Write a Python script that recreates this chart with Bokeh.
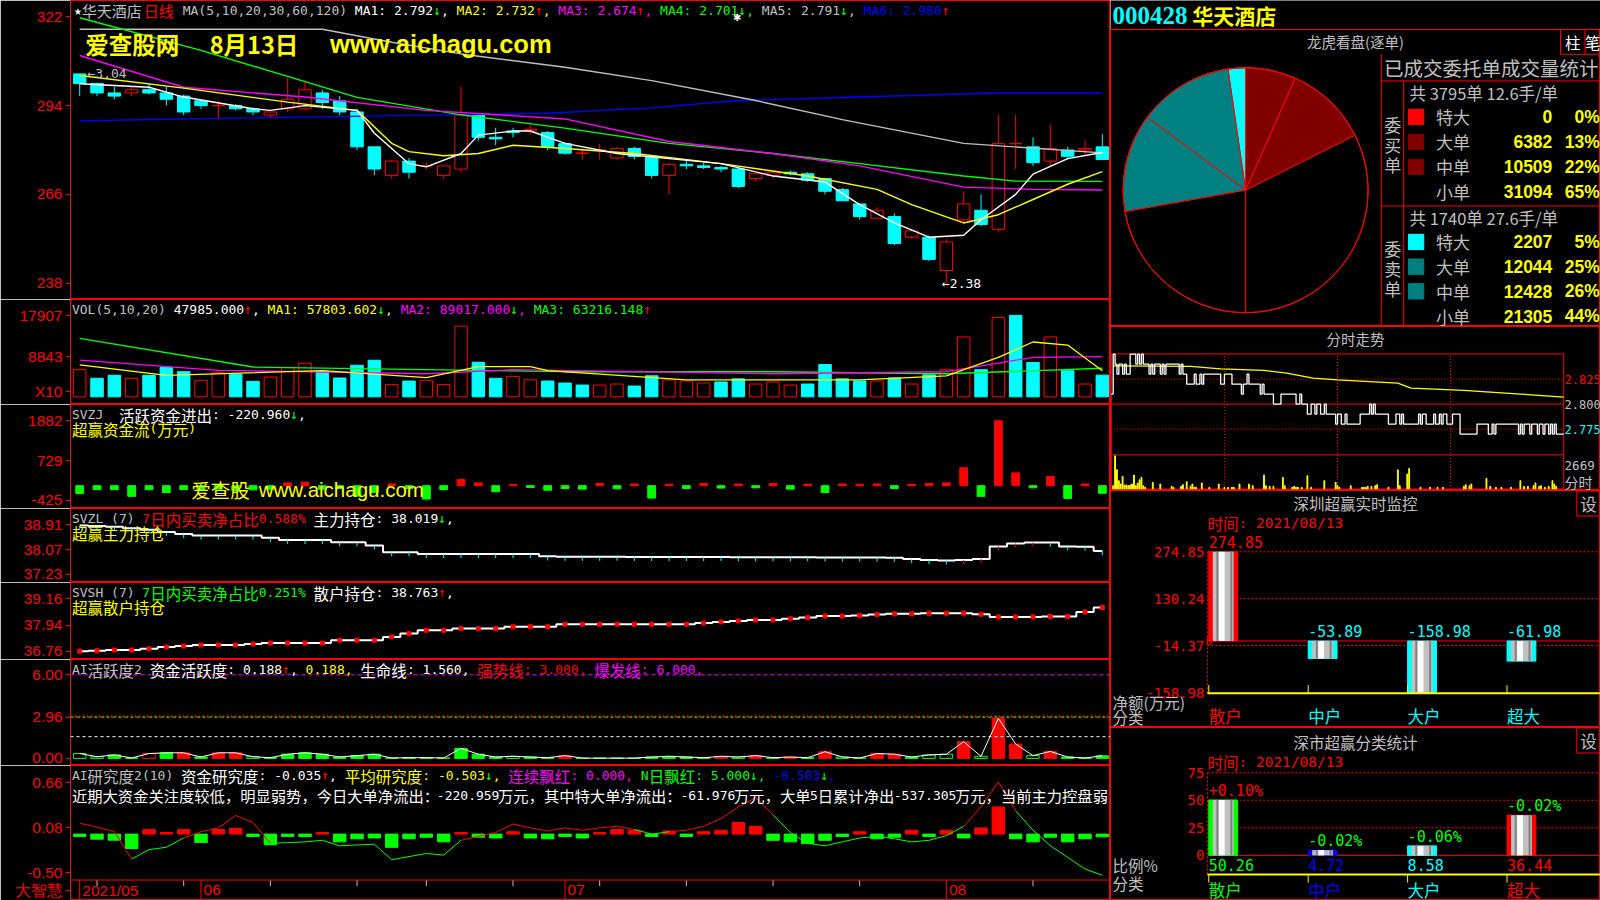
import math
from bokeh.plotting import figure
from bokeh.models import (Range1d, Label, FixedTicker, Span, LinearAxis)
from bokeh.layouts import column, row
from bokeh.embed import file_html
from bokeh.resources import INLINE
from bokeh.core.properties import value

RED = "#FF0000"; GREEN = "#00FF00"; CYAN = "#00FFFF"; YELLOW = "#FFFF00"; MAGENTA = "#FF00FF"
WHITE = "#FFFFFF"; GRAY = "#C0C0C0"; BLUE = "#0000FF"; TEAL = "#008080"; DRED = "#800000"; BLACK = "#000000"
MONO = "DejaVu Sans Mono"; CJK = "Noto Sans CJK SC"; SANS = "Liberation Sans"; SERIF = "Liberation Serif"

# ============================ DATA ============================
date_idx = [0, 7, 28, 50]
date_txt = ["2021/05", "06", "07", "08"]
week_idx = [1, 6, 11, 16, 20, 25, 30, 35, 40, 45, 55]

k_open = [3.04, 3.01, 2.98, 2.98, 2.99, 2.98, 2.97, 2.955, 2.94, 2.94,
          2.93, 2.91, 2.93, 2.93, 2.98, 2.955, 2.92, 2.81, 2.72, 2.765,
          2.75, 2.72, 2.74, 2.91, 2.84, 2.86, 2.86, 2.855, 2.82, 2.79,
          2.80, 2.775, 2.805, 2.78, 2.72, 2.755, 2.75, 2.745, 2.74, 2.71,
          2.72, 2.73, 2.725, 2.71, 2.675, 2.63, 2.585, 2.59, 2.525, 2.525,
          2.42, 2.58, 2.61, 2.55, 2.82, 2.81, 2.765, 2.80, 2.80, 2.81]
k_high = [3.04, 3.01, 3.00, 3.00, 3.01, 3.00, 2.975, 2.955, 2.955, 2.945,
          2.935, 2.92, 3.03, 3.02, 2.99, 2.97, 2.93, 2.81, 2.77, 2.775,
          2.76, 2.75, 3.00, 2.91, 2.87, 2.87, 2.88, 2.86, 2.825, 2.80,
          2.82, 2.81, 2.81, 2.78, 2.76, 2.77, 2.76, 2.75, 2.745, 2.72,
          2.735, 2.735, 2.73, 2.71, 2.68, 2.63, 2.62, 2.60, 2.55, 2.53,
          2.52, 2.67, 2.66, 2.91, 2.91, 2.84, 2.88, 2.81, 2.83, 2.85]
k_low = [2.97, 2.97, 2.96, 2.97, 2.975, 2.94, 2.91, 2.93, 2.90, 2.925,
         2.91, 2.90, 2.92, 2.925, 2.93, 2.91, 2.80, 2.72, 2.71, 2.71,
         2.74, 2.71, 2.73, 2.83, 2.815, 2.84, 2.85, 2.80, 2.785, 2.77,
         2.77, 2.77, 2.77, 2.71, 2.66, 2.74, 2.74, 2.73, 2.68, 2.70,
         2.71, 2.72, 2.70, 2.66, 2.64, 2.58, 2.58, 2.50, 2.52, 2.45,
         2.38, 2.57, 2.56, 2.54, 2.74, 2.75, 2.75, 2.77, 2.78, 2.77]
k_close = [3.01, 2.98, 2.97, 2.99, 2.98, 2.96, 2.92, 2.94, 2.94, 2.93,
           2.92, 2.92, 2.96, 2.99, 2.95, 2.92, 2.81, 2.74, 2.765, 2.73,
           2.75, 2.75, 2.91, 2.84, 2.835, 2.855, 2.865, 2.81, 2.79, 2.79,
           2.80, 2.805, 2.78, 2.72, 2.755, 2.75, 2.745, 2.74, 2.685, 2.725,
           2.73, 2.725, 2.705, 2.67, 2.64, 2.59, 2.61, 2.505, 2.545, 2.455,
           2.51, 2.63, 2.565, 2.82, 2.82, 2.76, 2.805, 2.78, 2.805, 2.77]
price_ticks = [2.38, 2.66, 2.94, 3.22]
price_tick_txt = ["238", "266", "294", "322"]

ma1_i = [0, 4, 6, 10, 11, 13, 16, 17, 19, 20, 22, 23, 25, 26, 28, 31, 34, 37, 40, 43, 45, 47, 49, 51, 52, 54, 55, 57, 59]
ma1_v = [3.009, 2.998, 2.967, 2.93, 2.925, 2.94, 2.925, 2.853, 2.757, 2.747, 2.789, 2.847, 2.86, 2.86, 2.821,
         2.789, 2.773, 2.757, 2.718, 2.699, 2.628, 2.57, 2.525, 2.531, 2.58, 2.66, 2.724, 2.773, 2.792]
ma2_i = [0, 6, 12, 16, 18, 19, 21, 23, 25, 28, 32, 37, 42, 46, 48, 50, 51, 53, 55, 57, 59]
ma2_v = [3.035, 2.995, 2.951, 2.925, 2.821, 2.795, 2.782, 2.789, 2.815, 2.805, 2.789, 2.757, 2.718, 2.676,
         2.628, 2.589, 2.57, 2.596, 2.644, 2.692, 2.732]
ma3_i = [0, 6, 13, 20, 28, 34, 40, 45, 51, 55, 59]
ma3_v = [3.098, 2.998, 2.967, 2.925, 2.898, 2.827, 2.789, 2.75, 2.683, 2.676, 2.674]
ma4_i = [0, 7, 12, 16, 22, 28, 34, 40, 45, 51, 54, 59]
ma4_v = [3.217, 3.114, 3.032, 2.966, 2.911, 2.869, 2.821, 2.789, 2.757, 2.718, 2.702, 2.701]
ma5_i = [0, 14, 18, 22, 28, 33, 39, 44, 51, 59]
ma5_v = [3.181, 3.181, 3.14, 3.103, 3.061, 3.019, 2.956, 2.896, 2.821, 2.791]
ma6_i = [0, 4, 27, 33, 38, 45, 53, 59]
ma6_v = [2.892, 2.896, 2.916, 2.933, 2.956, 2.967, 2.98, 2.98]

vol = [6030, 4100, 4760, 4100, 4760, 6530, 5570, 3650, 5420, 4990,
       3420, 4370, 6460, 7430, 5640, 4170, 6980, 8090, 2700, 3490,
       3650, 2700, 15640, 7640, 4100, 4530, 3760, 3490, 3060, 2600,
       2600, 2830, 2380, 4650, 3740, 3510, 3060, 3290, 3970, 2830,
       3290, 2600, 2830, 7140, 3970, 3510, 3510, 4190, 2830, 4870,
       6000, 13250, 6000, 17560, 18020, 7590, 13250, 5780, 2830, 4798]
vol_dir = "rccrcccrrc" "crrrccccrc" "rrrccrrccc" "rrccrrrccr" "rrccccrcrc" "rrcrccrcrc"
vol_ticks = [1133, 8843, 17907]
vol_tick_txt = ["X10", "8843", "17907"]
vma1_i = [0, 5, 14, 20, 23, 26, 27, 35, 45, 50, 53, 55, 57, 59]
vma1_v = [7047, 4759, 5778, 4237, 6685, 6685, 5778, 3739, 3739, 4645, 8724, 12125, 11445, 5780]
vma2_i = [0, 8, 20, 25, 40, 50, 55, 59]
vma2_v = [8112, 5869, 5099, 6005, 5099, 5552, 8724, 8902]
vma3_i = [0, 10, 28, 40, 50, 59]
vma3_v = [12916, 6594, 5552, 5552, 5100, 6322]

svzj = [-230, -115, -115, -310, -115, -200, -115, -120, -100, -150,
        -120, -100, 80, 100, -100, -80, -300, -200, 50, -80,
        -390, -115, 180, 80, -175, 30, -50, -130, -80, -100,
        60, -90, 50, -360, 40, -80, 60, -70, 50, -60,
        60, -100, 40, -200, 50, 40, 50, -80, 40, 60,
        80, 520, -310, 1882, 370, -60, 270, -370, 50, -221]
svzj_ticks = [-425, 729, 1882]

svzl = [38.89, 38.87, 38.85, 38.80, 38.75, 38.67, 38.60, 38.55, 38.55, 38.55,
        38.55, 38.47, 38.40, 38.40, 38.40, 38.32, 38.32, 38.21, 37.98, 37.98,
        37.92, 37.92, 37.92, 37.92, 37.92, 37.92, 37.92, 37.84, 37.83, 37.83,
        37.83, 37.83, 37.82, 37.82, 37.82, 37.82, 37.82, 37.82, 37.81, 37.81,
        37.81, 37.81, 37.81, 37.80, 37.80, 37.80, 37.80, 37.79, 37.75, 37.72,
        37.70, 37.72, 37.75, 38.18, 38.28, 38.31, 38.31, 38.18, 38.17, 38.02]
svzl_ticks = [37.23, 38.07, 38.91]

svsh = [36.77, 36.79, 36.82, 36.82, 36.88, 36.96, 37.00, 37.05, 37.05, 37.05,
        37.10, 37.14, 37.14, 37.14, 37.14, 37.27, 37.27, 37.27, 37.42, 37.57,
        37.72, 37.72, 37.80, 37.80, 37.80, 37.88, 37.88, 37.88, 38.00, 38.00,
        38.00, 38.00, 38.00, 38.00, 38.00, 38.00, 38.05, 38.10, 38.15, 38.19,
        38.19, 38.25, 38.30, 38.37, 38.37, 38.40, 38.44, 38.47, 38.47, 38.50,
        38.50, 38.50, 38.45, 38.33, 38.33, 38.33, 38.35, 38.35, 38.56, 38.76]
svsh_ticks = [36.76, 37.94, 39.16]

ai1 = [0.35, 0.12, 0.25, 0.03, 0.35, 0.4, 0.4, 0.1, 0.4, 0.4,
       0.12, 0.05, 0.3, 0.4, 0.3, 0.1, 0.2, 0.3, 0.03, 0.05,
       0.05, 0.03, 0.72, 0.3, 0.1, 0.15, 0.1, 0.05, 0.2, 0.02,
       0.02, 0.02, 0.02, 0.1, 0.15, 0.1, 0.05, 0.15, 0.1, 0.2,
       0.05, 0.1, 0.05, 0.48, 0.1, 0.03, 0.35, 0.3, 0.1, 0.25,
       0.3, 1.2, 0.15, 2.87, 1.03, 0.2, 0.5, 0.1, 0.03, 0.188]
ai1_kind = "ggGGrGRGRR" "gGGGGGGGGG" "GGGGGgGGRG" "GGGGGGGRgR" "GRGRgGRRGg" "gRgRRgRGGG"
ai1_ticks = [0.0, 2.96, 6.0]
ai1_txt = ["0.00", "2.96", "6.00"]
burst_line = 6.0
strong_line = 3.0
strong_line2 = 2.96
life_line = 1.56

ai2_bar = [-0.03, -0.065, -0.078, -0.185, 0.057, 0.02, 0.057, -0.107, 0.06, 0.075,
           -0.03, -0.137, -0.03, -0.03, 0.02, -0.1, -0.06, -0.05, -0.17, -0.06,
           -0.04, -0.1, 0.02, -0.04, -0.05, 0.03, -0.05, -0.06, -0.03, -0.05,
           0.02, 0.06, 0.05, -0.03, 0.04, -0.03, 0.03, 0.05, 0.15, 0.1,
           -0.08, -0.1, -0.12, -0.08, -0.03, 0.03, -0.06, -0.04, 0.05, -0.03,
           0.05, -0.05, 0.08, 0.35, -0.06, -0.1, -0.04, -0.1, -0.06, -0.035]
ai2_line = [0.14, 0.09, 0.03, -0.32, -0.2, -0.17, -0.05, 0.03, 0.08, 0.24,
            0.15, -0.12, -0.11, -0.10, -0.08, -0.15, -0.14, -0.13, -0.33, -0.29,
            -0.25, -0.27, -0.08, -0.03, 0.02, 0.13, 0.08, 0.04, 0.08, 0.05,
            0.08, 0.1, 0.06, 0.0, 0.03, 0.05, 0.1, 0.2, 0.35, 0.47,
            0.25, 0.02, -0.12, -0.15, -0.1, -0.05, -0.03, -0.06, -0.1, -0.08,
            -0.02, 0.1, 0.35, 0.67, 0.3, 0.05, -0.15, -0.3, -0.45, -0.53]
ai2_line_col = "rrrgggrrrr" "rggggggggg" "ggrrrrrrrr" "rrggrrrrrr" "gggggggggg" "grrrgggggg"
ai2_ticks = [-0.5, 0.08, 0.66, -0.724]
ai2_txt = ["-0.50", "0.08", "0.66", "大智慧"]
ai2_floor = -0.592
date_row_y = -0.724

# right side
stock_code = "000428"
stock_name = "华天酒店"
order_names = ["特大", "大单", "中单", "小单"]
buy_vol = [0, 6382, 10509, 31094]
buy_pct = ["0%", "13%", "22%", "65%"]
sell_vol = [2207, 12044, 12428, 21305]
sell_pct = ["5%", "25%", "26%", "44%"]
buy_total = "共 3795单 12.6手/单"
sell_total = "共 1740单 27.6手/单"
buy_cols = [RED, DRED, DRED, BLACK]
sell_cols = [CYAN, TEAL, TEAL, BLACK]

fs_pt_t = [0, 1, 2, 3, 4, 6, 7, 8, 10, 13, 14, 15, 16, 17, 20, 21, 22, 23, 26, 27, 28, 29, 36, 37, 38, 40,
           44, 45, 47, 48, 49, 58, 60, 64, 69, 70, 72, 73, 79, 80, 81, 86, 90, 98, 100, 101, 104, 106, 108,
           109, 111, 113, 114, 119, 120, 122, 124, 125, 132, 137, 138, 139, 140, 147, 151, 153, 154, 155,
           163, 164, 165, 167, 171, 172, 174, 175, 176, 178, 181, 185, 194, 200, 202, 203, 204, 216, 217,
           218, 219, 222, 223, 226, 227, 229, 230, 232, 233, 234, 235, 236, 240]
fs_pt_p = [2.81, 2.85, 2.84, 2.83, 2.84, 2.83, 2.84, 2.83, 2.85, 2.84, 2.85, 2.84, 2.85, 2.84, 2.83, 2.84,
           2.83, 2.84, 2.83, 2.84, 2.83, 2.84, 2.83, 2.84, 2.83, 2.82, 2.83, 2.82, 2.83, 2.82, 2.83, 2.82,
           2.83, 2.82, 2.81, 2.82, 2.83, 2.82, 2.81, 2.82, 2.81, 2.80, 2.81, 2.80, 2.81, 2.80, 2.79, 2.80,
           2.79, 2.80, 2.79, 2.80, 2.79, 2.78, 2.79, 2.78, 2.79, 2.78, 2.79, 2.80, 2.79, 2.80, 2.79, 2.78,
           2.79, 2.78, 2.79, 2.78, 2.79, 2.78, 2.79, 2.78, 2.79, 2.78, 2.79, 2.78, 2.79, 2.78, 2.79, 2.77,
           2.78, 2.77, 2.78, 2.77, 2.78, 2.77, 2.78, 2.77, 2.78, 2.77, 2.78, 2.77, 2.78, 2.77, 2.78, 2.77,
           2.78, 2.77, 2.78, 2.77, 2.77]
fs_avg_t = [1, 42, 58, 81, 93, 107, 120, 152, 159, 187, 215, 240]
fs_avg_p = [2.8383, 2.8377, 2.8353, 2.8337, 2.831, 2.826, 2.8243, 2.821, 2.816, 2.8137, 2.8103, 2.807]
fs_vol_t = [1, 2, 3, 4, 5, 6, 7, 8, 9, 10, 11, 12, 13, 14, 15, 16, 17, 18, 22, 26, 32, 33, 37, 38, 40, 42,
            43, 44, 45, 48, 52, 57, 60, 62, 64, 65, 68, 73, 75, 81, 82, 84, 86, 91, 92, 96, 97, 98, 99, 101,
            104, 106, 113, 119, 120, 121, 127, 133, 134, 135, 136, 138, 140, 141, 147, 152, 153, 157, 158,
            164, 169, 173, 176, 187, 188, 190, 191, 199, 201, 204, 207, 212, 217, 219, 221, 224, 225, 227,
            228, 230, 232, 234, 235, 236]
fs_vol_v = [267, 2669, 1548, 667, 400, 1014, 320, 320, 267, 320, 400, 1121, 267, 480, 747, 934, 267, 133,
            534, 400, 214, 133, 214, 347, 587, 214, 400, 133, 133, 480, 133, 400, 133, 133, 133, 133, 400,
            400, 267, 1121, 267, 214, 214, 934, 267, 133, 214, 133, 133, 133, 1068, 133, 667, 534, 267, 133,
            267, 133, 133, 133, 214, 214, 267, 347, 133, 1548, 267, 1201, 1655, 133, 133, 133, 133, 214,
            347, 267, 400, 854, 214, 133, 133, 133, 667, 214, 214, 267, 480, 214, 267, 133, 214, 667, 400,
            214]
fs_levels = [2.825, 2.800, 2.775]
fs_level_cols = [RED, GRAY, CYAN]
fs_vol_max = "2669"
fs_minutes = 240
fs_quarters = [60, 120, 180]
fs_top, fs_bot, fs_split = 2.8502, 2.715, 2.7492

cats = ["散户", "中户", "大户", "超大"]
sz_net = [274.85, -53.89, -158.98, -61.98]
sz_ticks = [274.85, 130.24, -14.37, -158.98]
sz_edge = [RED, CYAN, CYAN, CYAN]
ss_ratio = [50.26, 4.72, 8.58, 36.44]
ss_chg = ["+0.10%", "-0.02%", "-0.06%", "-0.02%"]
ss_chg_col = [RED, GREEN, GREEN, GREEN]
ss_edge = [GREEN, BLUE, CYAN, RED]
ss_ticks = [0, 25, 50, 75]
report_date = "2021/08/13"

# ============================ HELPERS ============================
K = 1600 / 1568   # layout positions below are given on a 1568-wide grid


class Geo:
    def __init__(self, p, xr, yr, fw_px, fh_px):
        self.p, self.xr, self.yr = p, xr, yr
        self.fw, self.fh = fw_px / K, fh_px / K

    def X(self, px):
        return self.xr[0] + (self.xr[1] - self.xr[0]) * px / self.fw

    def Y(self, py):
        return self.yr[1] - (self.yr[1] - self.yr[0]) * py / self.fh

    def DY(self, dpx):
        return (self.yr[1] - self.yr[0]) * dpx / self.fh


def lab(g, px, py, text, color, size="13px", font=MONO, align="left", base="middle",
        bold=False, xd=None, yd=None, **kw):
    x = g.X(px) if xd is None else xd
    y = g.Y(py) if yd is None else yd
    g.p.add_layout(Label(x=x, y=y, text=text, text_color=color, text_font_size=size,
                         text_font=font, text_font_style="bold" if bold else "normal",
                         text_align=align, text_baseline=base, **kw))


def runs(s):
    out = []
    for ch in s:
        k = "s" if ch == " " else ("c" if ord(ch) >= 0x2E80 else "a")
        if out and out[-1][1] == k:
            out[-1][0] += ch
        else:
            out.append([ch, k])
    return out


AW, CWID = 7.67, 15.2


def segs(g, px, py, items, csize="15.5px", asize="13px", aw=AW, cw=CWID):
    x = px
    for text, color in items:
        for run, kind in runs(text):
            if kind == "a":
                lab(g, x, py, run, color, asize, MONO)
                x += aw * len(run)
            elif kind == "c":
                lab(g, x, py, run, color, csize, CJK)
                x += cw * len(run)
            else:
                x += aw * len(run)
    return x


def base_fig(w, h, xr, yr, bl=0, outline=RED):
    p = figure(width=w, height=h, x_range=Range1d(*xr), y_range=Range1d(*yr),
               x_axis_location=None, y_axis_location=None, output_backend="svg",
               toolbar_location=None, min_border_left=bl, min_border_right=0,
               min_border_top=0, min_border_bottom=0,
               background_fill_color=BLACK, border_fill_color=BLACK, outline_line_color=outline)
    p.grid.visible = False
    return p, Geo(p, xr, yr, w - bl, h)


LW, AXW = 1110, 70
XR = (-0.53, 59.47)


def left_fig(h, yr, ticks, tlabels):
    p, g = base_fig(LW, h, XR, yr, bl=AXW)
    ax = LinearAxis(ticker=FixedTicker(ticks=ticks),
                    major_label_overrides={t: s for t, s in zip(ticks, tlabels)})
    ax.axis_line_color = RED
    ax.major_tick_line_color = RED
    ax.major_tick_in = 0
    ax.major_tick_out = 5
    ax.minor_tick_line_color = None
    ax.major_label_text_color = RED
    ax.major_label_text_font = SANS
    ax.major_label_text_font_size = "15.5px"
    ax.major_label_standoff = 3
    p.add_layout(ax, "left")
    return p, g


days = list(range(len(k_close)))
HY = 10   # header first-line offset

# ============================ PRICE PANEL ============================
p1, g1 = left_fig(299, (2.3286, 3.2715), price_ticks, price_tick_txt)
up = [c >= o for o, c in zip(k_open, k_close)]
kcol = [RED if u else CYAN for u in up]
kfill = [BLACK if u else CYAN for u in up]
p1.segment(x0=days, y0=k_low, x1=days, y1=k_high, color=kcol, line_width=1)
p1.vbar(x=days, width=0.72, top=[max(o, c) for o, c in zip(k_open, k_close)],
        bottom=[min(o, c) for o, c in zip(k_open, k_close)], fill_color=kfill, line_color=kcol)
for xs, ys, col in [(ma6_i, ma6_v, BLUE), (ma5_i, ma5_v, GRAY), (ma4_i, ma4_v, GREEN),
                    (ma3_i, ma3_v, MAGENTA), (ma2_i, ma2_v, YELLOW), (ma1_i, ma1_v, WHITE)]:
    p1.line(xs, ys, color=col, line_width=1.4)

segs(g1, 3.4, HY, [("★", WHITE), ("华天酒店", GRAY), ("日线", RED), (" MA(5,10,20,30,60,120) ", GRAY),
                   ("MA1: 2.792", WHITE), ("↓", GREEN), (", ", WHITE),
                   ("MA2: 2.732", YELLOW), ("↑", RED), (", ", YELLOW),
                   ("MA3: 2.674", MAGENTA), ("↑", RED), (", ", MAGENTA),
                   ("MA4: 2.701", GREEN), ("↓", GREEN), (", ", GREEN),
                   ("MA5: 2.791", GRAY), ("↓", GREEN), (", ", GRAY),
                   ("MA6: 2.980", BLUE), ("↑", RED)], csize="15px")
lab(g1, 14.4, 43, "爱查股网", YELLOW, "23.5px", CJK, bold=True)
lab(g1, 136.4, 43, "8月13日", YELLOW, "23.5px", CJK, bold=True)
lab(g1, 254.4, 43, "www.aichagu.com", YELLOW, "25.5px", SANS, bold=True)
lab(g1, 0, 0, "←3.04", GRAY, "13px", MONO, xd=0.45, yd=3.04)
lab(g1, 0, 0, "←2.38", WHITE, "13px", MONO, xd=49.75, yd=2.38)
lab(g1, 0, 0, "✱", WHITE, "10px", SANS, align="center", xd=37.9, yd=3.217)

# ============================ VOLUME PANEL ============================
p2, g2 = left_fig(105, (-1700, 21533), vol_ticks, vol_tick_txt)
vcol = [RED if d == "r" else CYAN for d in vol_dir]
vfill = [BLACK if d == "r" else CYAN for d in vol_dir]
p2.vbar(x=days, width=0.72, top=vol, bottom=0, fill_color=vfill, line_color=vcol)
for xs, ys, col in [(vma3_i, vma3_v, GREEN), (vma2_i, vma2_v, MAGENTA), (vma1_i, vma1_v, YELLOW)]:
    p2.line(xs, ys, color=col, line_width=1.3)
segs(g2, 1.4, HY, [("VOL(5,10,20)", GRAY), (" 47985.000", WHITE), ("↑", RED), (", ", WHITE),
                   ("MA1: 57803.602", YELLOW), ("↓", GREEN), (", ", YELLOW),
                   ("MA2: 89017.000", MAGENTA), ("↓", GREEN), (", ", MAGENTA),
                   ("MA3: 63216.148", GREEN), ("↑", RED)])

# ============================ SVZJ PANEL ============================
p3, g3 = left_fig(104, (-662, 2355), svzj_ticks, [str(t) for t in svzj_ticks])
zcol = [RED if v > 0 else GREEN for v in svzj]
p3.vbar(x=days, width=0.45, top=svzj, bottom=0, color=zcol)
segs(g3, 1.4, HY, [("SVZJ", GRAY), ("  活跃资金进出: -220.960", WHITE), ("↓", GREEN), (",", WHITE)])
segs(g3, 1.4, 24, [("超赢资金流(万元)", YELLOW)])
lab(g3, 118.4, 83, "爱查股", YELLOW, "19.5px", CJK)
lab(g3, 184.4, 83, "www.aichagu.com", YELLOW, "20.5px", SANS)

# ============================ SVZL PANEL ============================
p4, g4 = left_fig(74, (36.95, 39.47), svzl_ticks, [f"{t:.2f}" for t in svzl_ticks])
p4.step(days, svzl, mode="center", color=WHITE, line_width=2)
zl_tick_col = [CYAN] + [RED if b > a else CYAN for a, b in zip(svzl[:-1], svzl[1:])]
p4.segment(x0=days, x1=days, y0=svzl, y1=[v - g4.DY(4) for v in svzl], color=zl_tick_col, line_width=1)
segs(g4, 1.4, HY, [("SVZL (7) ", GRAY), ("7日内买卖净占比0.588%", RED), (" 主力持仓: 38.019", WHITE),
                   ("↓", GREEN), (",", WHITE)])
segs(g4, 1.4, 24, [("超赢主力持仓", YELLOW)])

# ============================ SVSH PANEL ============================
p5, g5 = left_fig(77, (36.39, 39.90), svsh_ticks, [f"{t:.2f}" for t in svsh_ticks])
p5.step(days, svsh, mode="center", color=WHITE, line_width=2)
p5.scatter(days, svsh, marker="square", size=4, color=RED)
segs(g5, 1.4, HY, [("SVSH (7) ", GRAY), ("7日内买卖净占比0.251%", GREEN), (" 散户持仓: 38.763", WHITE),
                   ("↑", RED), (",", WHITE)])
segs(g5, 1.4, 24, [("超赢散户持仓", YELLOW)])

# ============================ AI活跃度 PANEL ============================
p6, g6 = left_fig(106, (-0.51, 7.1), ai1_ticks, ai1_txt)
for loc, col, dash, lw in [(burst_line, MAGENTA, "4 3", 1), (strong_line, RED, "2 2", 2),
                           (strong_line2, GREEN, "3 3", 1), (life_line, WHITE, "3 3", 1)]:
    p6.add_layout(Span(location=loc, dimension="width", line_color=col, line_dash=dash, line_width=lw))
a1_line = [GREEN if k in "Gg" else RED for k in ai1_kind]
a1_fill = [GREEN if k == "G" else (RED if k == "R" else BLACK) for k in ai1_kind]
p6.vbar(x=days, width=0.72, top=ai1, bottom=0, fill_color=a1_fill, line_color=a1_line)
p6.line(days, ai1, color=WHITE, line_width=1)
segs(g6, 1.4, HY, [("AI活跃度2", GRAY), (" 资金活跃度: 0.188", WHITE), ("↑", RED), (", ", WHITE),
                   ("0.188, ", YELLOW), ("生命线: 1.560, ", WHITE), ("强势线: 3.000, ", RED),
                   ("爆发线: 6.000,", MAGENTA)])

# ============================ AI研究度 PANEL (+ date row) ============================
p7, g7 = left_fig(135, (-0.8556, 0.884), ai2_ticks, ai2_txt)
p7.add_layout(Span(location=ai2_floor, dimension="width", line_color=RED, line_width=1))
a2c = [RED if v > 0 else GREEN for v in ai2_bar]
p7.vbar(x=days, width=0.72, top=ai2_bar, bottom=0, color=a2c)
p7.segment(x0=days[:-1], y0=ai2_line[:-1], x1=days[1:], y1=ai2_line[1:],
           color=[RED if k == "r" else GREEN for k in ai2_line_col[:-1]], line_width=1)
p7.segment(x0=date_idx, x1=date_idx, y0=ai2_floor, y1=-0.8556, color=RED, line_width=1)
p7.segment(x0=week_idx, x1=week_idx, y0=ai2_floor, y1=ai2_floor - g7.DY(6), color=GRAY, line_width=1)
p7.text(x=[i + 0.15 for i in date_idx], y=[date_row_y] * len(date_idx), text=date_txt,
        text_color=RED, text_font=value(SANS), text_font_size=value("15.5px"),
        text_align="left", text_baseline="middle")
segs(g7, 1.4, HY, [("AI研究度2(10)", GRAY), (" 资金研究度: -0.035", WHITE), ("↑", RED), (", ", WHITE),
                   ("平均研究度: -0.503", YELLOW), ("↓", GREEN), (", ", YELLOW),
                   ("连续飘红: 0.000, ", MAGENTA), ("N日飘红: 5.000", GREEN), ("↓", GREEN), (", ", GREEN),
                   ("-0.503", BLUE), ("↓", GREEN), (",", BLUE)])
segs(g7, 1.4, 29, [("近期大资金关注度较低，明显弱势，今日大单净流出：-220.959万元，其中特大单净流出：-61.976万元，"
                    "大单5日累计净出-537.305万元，当前主力控盘弱", WHITE)], csize="15.3px", asize="13px",
     aw=7.5, cw=14.9)

# ============================ RIGHT: TITLE ============================
RW = 490
pt, gt = base_fig(RW, 29, (0, 480), (0, 28), outline=None)
lab(gt, 2, 14.5, stock_code, CYAN, "25px", SERIF, bold=True)
lab(gt, 80, 14.5, stock_name, YELLOW, "21px", CJK, bold=True)

# ============================ RIGHT: PIE PANEL ============================
PW, PH = RW / K, 297 / K
pp, gp = base_fig(RW, 297, (0, PW), (0, PH))
Y = lambda y: PH - y
cx, cy, R = 132.4, Y(157.5), 120
starts, ends, wcols = [], [], []
tot = sum(buy_vol); acc = 0
for v, c in zip(buy_vol, buy_cols):
    a0 = math.pi / 2 - acc / tot * math.pi
    acc += v
    a1 = math.pi / 2 - acc / tot * math.pi
    starts.append(a1); ends.append(a0); wcols.append(c)
tot = sum(sell_vol); acc = 0
for v, c in zip(sell_vol, sell_cols):
    a0 = math.pi / 2 + acc / tot * math.pi
    acc += v
    a1 = math.pi / 2 + acc / tot * math.pi
    starts.append(a0); ends.append(a1); wcols.append(c)
pp.wedge(x=cx, y=cy, radius=R, start_angle=starts, end_angle=ends, fill_color=wcols,
         line_color=RED, line_width=1)
pp.circle(x=[cx], y=[cy], radius=R, fill_color=None, line_color=RED, line_width=1)
pp.text(x=[240], y=[Y(12)], text=["龙虎看盘(逐单)"], text_color=GRAY, text_font=value(CJK),
        text_font_size=value("14.5px"), text_align="center", text_baseline="middle")
pp.segment(x0=[265.4, 265.4, 287.3, 265.4, 441, 441, 465], y0=[Y(24.3), Y(50.4), Y(50.4), Y(173), Y(24.3), Y(0), Y(0)],
           x1=[265.4, PW, 287.3, PW, PW, 441, 465], y1=[Y(PH), Y(50.4), Y(PH), Y(173), Y(24.3), Y(24.3), Y(24.3)],
           color=RED, line_width=1)
pp.text(x=[453, 472.5], y=[Y(12.5), Y(12.5)], text=["柱", "笔"], text_color=WHITE, text_font=value(CJK),
        text_font_size=value("15.5px"), text_align="center", text_baseline="middle")
pp.text(x=[268], y=[Y(37)], text=["已成交委托单成交量统计"], text_color=GRAY, text_font=value(CJK),
        text_font_size=value("19.5px"), text_baseline="middle")
pp.text(x=[293, 293], y=[Y(61.8), Y(184.4)], text=[buy_total, sell_total], text_color=GRAY,
        text_font=value(CJK), text_font_size=value("16.5px"), text_baseline="middle")
rows_y = [Y(85.7 + 24.5 * k) for k in range(4)] + [Y(208.2 + 24.2 * k) for k in range(4)]
row_cols = buy_cols + sell_cols
sq = [(yy, c) for yy, c in zip(rows_y, row_cols) if c != BLACK]
pp.rect(x=[299.5] * len(sq), y=[s[0] for s in sq], width=15, height=15, color=[s[1] for s in sq])
pp.text(x=[319] * 8, y=rows_y, text=order_names * 2, text_color=GRAY, text_font=value(CJK),
        text_font_size=value("17px"), text_baseline="middle")
pp.text(x=[433] * 8, y=rows_y, text=[str(v) for v in buy_vol + sell_vol], text_color=YELLOW,
        text_font=value(SANS), text_font_size=value("17.5px"), text_font_style="bold",
        text_align="right", text_baseline="middle")
pp.text(x=[479.5] * 8, y=rows_y, text=buy_pct + sell_pct, text_color=YELLOW,
        text_font=value(SANS), text_font_size=value("17.5px"), text_font_style="bold",
        text_align="right", text_baseline="middle")
pp.text(x=[276.7] * 6, y=[Y(93), Y(112.5), Y(132), Y(215), Y(234.5), Y(254)],
        text=["委", "买", "单", "委", "卖", "单"], text_color=GRAY, text_font=value(CJK),
        text_font_size=value("17px"), text_align="center", text_baseline="middle")

# ============================ RIGHT: 分时 PANEL ============================
fs, gf = base_fig(RW, 164, (-0.43, 259.5), (2.7135, 2.8777))
fs.extra_y_ranges = {"vol": Range1d(-123, 13095)}
fs.quad(left=[0], right=[fs_minutes], bottom=[fs_bot], top=[fs_top], fill_color=None, line_color=RED)
fs.segment(x0=[0, 0], x1=[fs_minutes] * 2, y0=[fs_levels[1], fs_split], y1=[fs_levels[1], fs_split],
           color=RED, line_width=1)
fs.segment(x0=[0, 0], x1=[fs_minutes] * 2, y0=[fs_levels[0], fs_levels[2]], y1=[fs_levels[0], fs_levels[2]],
           color=RED, line_width=1, line_dash="1 2")
fs.segment(x0=fs_quarters, x1=fs_quarters, y0=[fs_bot] * 3, y1=[fs_top] * 3, color=RED, line_dash="1 2")
fs.vbar(x=fs_vol_t, top=fs_vol_v, bottom=0, width=0.45, color=YELLOW, y_range_name="vol")
fs.line(fs_avg_t, fs_avg_p, color=YELLOW, line_width=1.2)
fs.step(fs_pt_t, fs_pt_p, mode="after", color=WHITE, line_width=1.3)
lab(gf, 240, 12, "分时走势", GRAY, "14.5px", CJK, align="center")
for lv, col in zip(fs_levels, fs_level_cols):
    lab(gf, 445, 0, f"{lv:.3f}", col, "12px", MONO, yd=lv)
lab(gf, 445, 136, fs_vol_max, GRAY, "12.5px", MONO)
lab(gf, 445, 152, "分时", GRAY, "14px", CJK)

# ============================ RIGHT: bar panels ============================
BW = 0.29
SXR = (-1.1335, 3.795)


def bar_panel(h, yr, ticks, tick_txt, vals, edges, axis_y, tick_dir, grid_ticks, vline_top):
    p, g = base_fig(RW, h, SXR, yr)
    FL = g.X(95)
    for t, s in zip(ticks, tick_txt):
        lab(g, 92, 0, s, RED, "14px", MONO, align="right", yd=t)
    p.segment(x0=[FL] * len(grid_ticks), x1=[SXR[1]] * len(grid_ticks), y0=grid_ticks, y1=grid_ticks,
              color=RED, line_dash="2 2")
    p.segment(x0=[FL], x1=[SXR[1]], y0=[0], y1=[0], color=RED, line_width=1)
    p.segment(x0=[FL], x1=[FL], y0=[axis_y], y1=[vline_top], color=RED, line_dash="2 2")
    xs = list(range(len(vals)))
    p.vbar(x=xs, top=vals, bottom=0, width=BW, fill_color=edges, line_color=edges)
    p.vbar(x=xs, top=vals, bottom=0, width=BW * 0.72, fill_color=GRAY, line_color=None)
    p.vbar(x=[x - BW * 0.2 for x in xs], top=vals, bottom=0, width=BW * 0.07, fill_color="#808080", line_color=None)
    p.vbar(x=[x + BW * 0.28 for x in xs], top=vals, bottom=0, width=BW * 0.07, fill_color="#808080", line_color=None)
    p.vbar(x=[x - BW * 0.05 for x in xs], top=vals, bottom=0, width=BW * 0.2, fill_color=WHITE, line_color=None)
    p.segment(x0=[FL], x1=[SXR[1]], y0=[axis_y], y1=[axis_y], color=YELLOW, line_width=2)
    lefts = [x - BW / 2 for x in xs]
    p.segment(x0=lefts, x1=lefts, y0=[axis_y] * len(xs), y1=[axis_y + tick_dir * g.DY(8)] * len(xs),
              color=YELLOW, line_width=1)
    p.quad(left=[g.X(457)], right=[SXR[1]], top=[g.Y(0.5)], bottom=[g.Y(25)], fill_color=None, line_color=RED)
    lab(g, 468.5, 13, "设", GRAY, "16.5px", CJK, align="center")
    return p, g, lefts


sz, gs, szl = bar_panel(237, (-266.6, 463.7), sz_ticks, [f"{t:.2f}" for t in sz_ticks], sz_net, sz_edge,
                        -161.2, 1, sz_ticks[:3], sz_ticks[0])
for x, v in zip(szl, sz_net):
    lab(gs, 0, 0, f"{v:.2f}", RED if v > 0 else CYAN, "15px", MONO, xd=x, yd=max(v, 0) + gs.DY(10))
for x, c, col in zip(szl, cats, sz_edge):
    lab(gs, 0, 221, c, col, "16.5px", CJK, xd=x)
lab(gs, 240, 12, "深圳超赢实时监控", GRAY, "15.5px", CJK, align="center")
segs(gs, 95, 32, [("时间: " + report_date, RED)], asize="14.5px", aw=8.56)
lab(gs, 2, 207, "净额(万元)", GRAY, "15.5px", CJK)
lab(gs, 2, 222, "分类", GRAY, "15.5px", CJK)
lab(gs, 93, 0, "0", RED, "12px", MONO, yd=0)

ss, gss, ssl = bar_panel(173, (-41.0, 116.1), ss_ticks, [str(t) for t in ss_ticks], ss_ratio, ss_edge,
                         -17.3, -1, ss_ticks[1:], ss_ticks[-1])
for x, v, t, col, ec in zip(ssl, ss_ratio, ss_chg, ss_chg_col, ss_edge):
    lab(gss, 0, 0, t, col, "15px", MONO, xd=x, yd=v + gss.DY(9))
    lab(gss, 0, 134.7, f"{v:.2f}", ec, "15px", MONO, xd=x)
for x, c, col in zip(ssl, cats, ss_edge):
    lab(gss, 0, 159, c, col, "16.5px", CJK, xd=x)
lab(gss, 240, 13.8, "深市超赢分类统计", GRAY, "15.5px", CJK, align="center")
segs(gss, 95, 33.4, [("时间: " + report_date, RED)], asize="14.5px", aw=8.56)
lab(gss, 2, 134.7, "比例%", GRAY, "15.5px", CJK)
lab(gss, 2, 152, "分类", GRAY, "15.5px", CJK)

# ============================ LAYOUT ============================
left = column(p1, p2, p3, p4, p5, p6, p7, spacing=0)
right = column(pt, pp, fs, sz, ss, spacing=0)
root = row(left, right, spacing=0)
open("out.html", "w").write(file_html(root, INLINE, "华天酒店"))
